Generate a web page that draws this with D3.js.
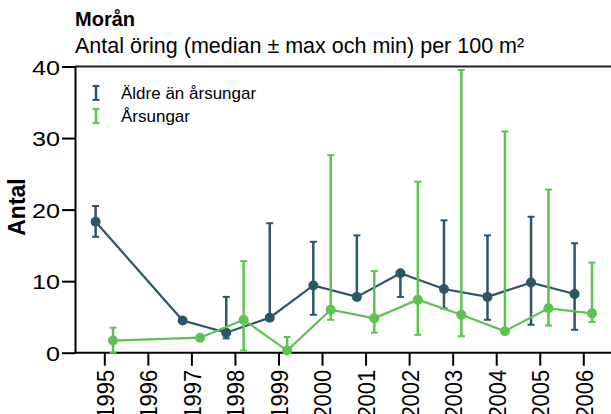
<!DOCTYPE html>
<html>
<head>
<meta charset="utf-8">
<script src="https://cdn.jsdelivr.net/npm/d3@7"></script>
<style>
body{margin:0;background:#fff;}
text{font-family:"Liberation Sans",Arial,sans-serif;fill:#000;}
</style>
</head>
<body>
<div class="main"></div>
<script>
// data
var years=[1995,1997,1998,1999,2000,2001,2002,2003,2004,2005,2006];
var tickYears=[1995,1996,1997,1998,1999,2000,2001,2002,2003,2004,2005,2006];
var yTicks=[0,10,20,30,40];
var aldreMedian=[18.3,4.5,2.8,4.9,9.4,7.8,11.1,8.9,7.8,9.8,8.2];
var aldreMax=[20.5,4.5,7.8,18.1,15.5,16.4,11.3,18.5,16.4,19.0,15.3];
var aldreMin=[16.2,4.5,2.0,4.6,5.3,7.5,7.8,6.2,4.6,3.9,3.2];
var arsMedian=[1.7,2.1,4.6,0.3,6.0,4.8,7.4,5.3,3.0,6.2,5.5];
var arsMax=[3.5,2.1,12.8,2.2,27.6,11.4,23.9,39.5,30.9,22.8,12.6];
var arsMin=[0,2.1,0.3,0,4.6,2.8,2.5,2.3,2.9,3.8,4.3];
var seriesNames=['Äldre än årsungar','Årsungar'];

var dark='#2c5568', green='#5cc44e';
var width=611, height=414;
var margin={left:75, right:620, top:66.5, bottom:352.7};

var svg=d3.select('.main').append('svg')
    .attr('width',width)
    .attr('height',height);

var x=d3.scaleLinear().domain([1995,2006]).range([104.3,583.3]);
var y=d3.scaleLinear().domain([0,40]).range([margin.bottom,margin.top]);
var off=0.2; // dodge in years

var series=[
  {name:seriesNames[0],color:dark,shift:-off,med:aldreMedian,max:aldreMax,min:aldreMin},
  {name:seriesNames[1],color:green,shift:off,med:arsMedian,max:arsMax,min:arsMin}
];

// frame
svg.append('line').attr('x1',margin.left).attr('x2',margin.right).attr('y1',y(40)).attr('y2',y(40))
   .attr('stroke','#222').attr('stroke-width',2);

// y axis
var yAxis=d3.axisLeft(y).tickValues(yTicks).tickSize(13).tickSizeOuter(0);
var yg=svg.append('g').attr('transform','translate('+margin.left+',0)').call(yAxis);
yg.select('.domain').attr('stroke','#000').attr('stroke-width',2);
yg.selectAll('.tick line').attr('stroke','#000').attr('stroke-width',2);
yg.selectAll('.tick text')
  .attr('x',0).attr('dy','0.36em')
  .attr('transform','translate(-15,0) scale(1.2,1)')
  .style('font-size','21px').style('fill','#000');

// x axis
var xAxis=d3.axisBottom(x).tickValues(tickYears).tickSize(13).tickSizeOuter(0).tickFormat(d3.format('d'));
var xg=svg.append('g').attr('transform','translate(0,'+margin.bottom+')').call(xAxis);
xg.select('.domain').remove();
xg.selectAll('.tick line').attr('stroke','#000').attr('stroke-width',2);
xg.selectAll('.tick text')
  .attr('x',0).attr('y',0).attr('dy','0.36em')
  .attr('text-anchor','end')
  .attr('transform','translate(0,17) scale(1.12,1) rotate(-90)')
  .style('font-size','22px').style('fill','#000');
svg.append('line').attr('x1',margin.left-1).attr('x2',margin.right).attr('y1',margin.bottom).attr('y2',margin.bottom)
   .attr('stroke','#000').attr('stroke-width',2);

// series
var line=d3.line().x(function(d){return d.x;}).y(function(d){return d.y;});
series.forEach(function(s){
  var pts=years.map(function(yr,i){
    return {x:x(yr+s.shift),y:y(s.med[i]),hi:y(s.max[i]),lo:y(s.min[i])};
  });
  var g=svg.append('g');
  g.selectAll('.bar').data(pts).enter().append('line')
    .attr('x1',function(d){return d.x;}).attr('x2',function(d){return d.x;})
    .attr('y1',function(d){return d.hi;}).attr('y2',function(d){return d.lo;})
    .attr('stroke',s.color).attr('stroke-width',2.5);
  ['hi','lo'].forEach(function(k){
    g.selectAll('.cap'+k).data(pts).enter().append('line')
      .attr('x1',function(d){return d.x-3.5;}).attr('x2',function(d){return d.x+3.5;})
      .attr('y1',function(d){return d[k];}).attr('y2',function(d){return d[k];})
      .attr('stroke',s.color).attr('stroke-width',2);
  });
  g.append('path').datum(pts).attr('d',line)
    .attr('fill','none').attr('stroke',s.color).attr('stroke-width',2.2);
  g.selectAll('circle').data(pts).enter().append('circle')
    .attr('cx',function(d){return d.x;}).attr('cy',function(d){return d.y;})
    .attr('r',5).attr('fill',s.color);
});

// legend
var legend=svg.append('g').selectAll('g').data(series).enter().append('g')
  .attr('transform',function(d,i){return 'translate(96,'+(93+i*23)+')';});
legend.append('line').attr('x1',0).attr('x2',0).attr('y1',-7).attr('y2',7)
  .attr('stroke',function(d){return d.color;}).attr('stroke-width',2.5);
legend.selectAll('.c').data(function(d){return [[-7,d.color],[7,d.color]];}).enter().append('line')
  .attr('x1',-3.5).attr('x2',3.5).attr('y1',function(d){return d[0];}).attr('y2',function(d){return d[0];})
  .attr('stroke',function(d){return d[1];}).attr('stroke-width',2);
legend.append('text').attr('x',25).attr('y',6)
  .style('font-size','17px')
  .text(function(d){return d.name;});

// titles
svg.append('text').attr('x',75).attr('y',26)
  .style('font-size','20px').style('font-weight','bold').text('Morån');
svg.append('text').attr('x',75).attr('y',53)
  .style('font-size','21.5px').text('Antal öring (median ± max och min) per 100 m²');
svg.append('text')
  .attr('transform','translate(17,207) rotate(-90)')
  .attr('text-anchor','middle').attr('dy','0.36em')
  .style('font-size','23px').style('font-weight','bold').text('Antal');
</script>
</body>
</html>
